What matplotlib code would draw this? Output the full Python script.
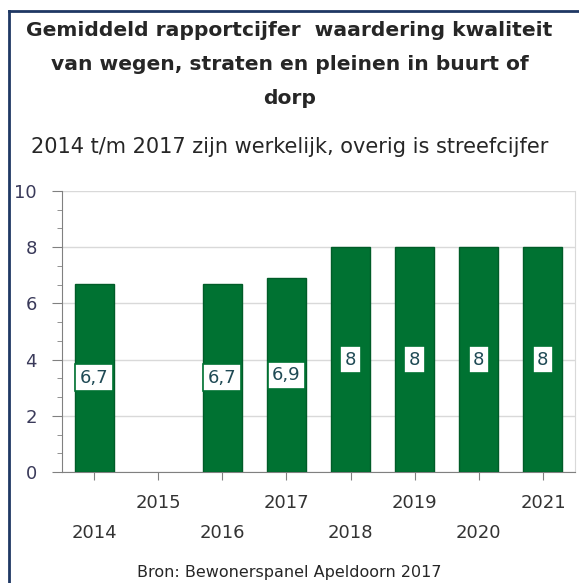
import numpy as np
import matplotlib
matplotlib.use("Agg")
import matplotlib.pyplot as plt
from matplotlib.lines import Line2D

# data
years = ["2014", "2015", "2016", "2017", "2018", "2019", "2020", "2021"]
values = [6.7, np.nan, 6.7, 6.9, 8, 8, 8, 8]
labels = ["6,7", "", "6,7", "6,9", "8", "8", "8", "8"]

title = "Gemiddeld rapportcijfer  waardering kwaliteit\nvan wegen, straten en pleinen in buurt of\ndorp"
subtitle = "2014 t/m 2017 zijn werkelijk, overig is streefcijfer"
source = "Bron: Bewonerspanel Apeldoorn 2017"

green = "#007232"
navy = "#1f3864"
text_col = "#333333"

fig = plt.figure(figsize=(5.79, 5.83), dpi=100)
W, H = 579, 583

# outer frame (left and top edges visible)
fig.add_artist(Line2D([9 / W, 9 / W], [0, 1 - 11 / H], color=navy, lw=2))
fig.add_artist(Line2D([9 / W, 1], [1 - 11 / H, 1 - 11 / H], color=navy, lw=2))

ax = fig.add_axes([62 / W, 111 / H, (575 - 62) / W, (472 - 191) / H])

x = np.arange(len(years))
ax.bar(x, values, width=0.61, color=green, edgecolor="#005c28", linewidth=1, zorder=3)

for xi, v, lab in zip(x, values, labels):
    if np.isnan(v):
        continue
    ax.text(xi, v / 2, lab, ha="center", va="center", fontsize=13,
            color="#1f4a55", zorder=4,
            bbox=dict(boxstyle="square,pad=0.25", fc="white", ec=green, lw=1.2))

ax.set_xlim(-0.5, len(years) - 0.5)
ax.set_ylim(0, 10)
ax.set_yticks(np.arange(0, 11, 2))
ax.set_yticks(np.arange(0, 10.01, 2 / 3), minor=True)
ax.yaxis.grid(True, color="#d9d9d9", lw=1, zorder=0)

ax.set_xticks(x)
ax.set_xticklabels([])
for xi, yr in zip(x, years):
    offset = 0.11 if int(yr) % 2 else 0.217
    ax.text(xi, -offset, yr, transform=ax.get_xaxis_transform(),
            ha="center", va="center", fontsize=13, color=text_col)

ax.tick_params(axis="y", which="major", length=7, color="#808080",
               labelsize=13, labelcolor="#3a3a5a", pad=11)
ax.tick_params(axis="y", which="minor", length=3.6, color="#808080")
ax.tick_params(axis="x", length=6, color="#808080")

for side in ["left", "bottom"]:
    ax.spines[side].set_color("#808080")
ax.spines["top"].set_visible(False)
ax.spines["right"].set_color("#d9d9d9")

fig.text(0.5, 1 - 64 / H, title, ha="center", va="center", fontsize=14.6,
         fontweight="bold", color="#262626", linespacing=2.0)
fig.text(0.5, 1 - 147 / H, subtitle, ha="center", va="center",
         fontsize=15, color="#262626")
fig.text(0.5, 1 - 572 / H, source, ha="center", va="center",
         fontsize=11.5, color="#262626")

fig.savefig("out.png", dpi=100)
